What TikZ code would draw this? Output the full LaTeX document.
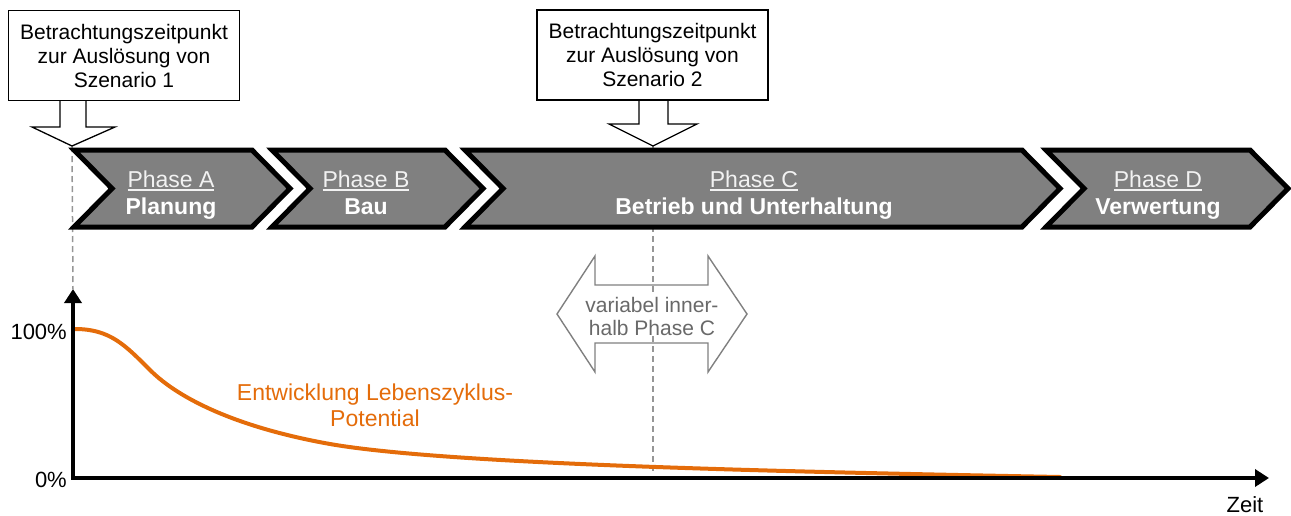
\documentclass[tikz,border=0pt]{standalone}
\usepackage{fontspec}
\setmainfont{Liberation Sans}
\usetikzlibrary{arrows.meta}
\definecolor{chevgray}{RGB}{128,128,128}
\definecolor{potorange}{RGB}{228,108,10}
\definecolor{dashgray}{RGB}{150,150,150}
\definecolor{notegray}{RGB}{105,105,105}
\definecolor{titlewhite}{RGB}{242,242,242}
% underlined phase title with a rule of fixed thickness
\newcommand\phaseul[1]{\setbox0\hbox{#1}\rlap{\raisebox{-3.5pt}{\rule{\wd0}{1.4pt}}}\box0}
\begin{document}
\begin{tikzpicture}[x=1pt,y=-1pt,
  chev/.style={fill=chevgray,draw=black,line width=5pt,line join=miter,miter limit=10},
  phasetitle/.style={anchor=base,inner sep=0pt,text=titlewhite,font=\fontsize{23}{28}\selectfont},
  phasename/.style={anchor=base,inner sep=0pt,text=white,font=\fontsize{23}{28}\selectfont\bfseries},
  callbox/.style={draw=black,line width=1.3pt,fill=white,align=center,inner sep=0pt,
    minimum width=231pt,minimum height=90pt,font=\fontsize{21}{24}\selectfont},
  callptr/.style={draw=black,line width=1.3pt,line join=miter},
  guide/.style={draw=dashgray,line width=1.5pt,dash pattern=on 6pt off 4pt},
  axisline/.style={line width=4pt,line join=miter,
    {Triangle[length=14pt,width=17pt]}-{Triangle[length=14pt,width=17pt]}},
  varbox/.style={draw=notegray!85,line width=1.4pt,line join=miter},
  vartext/.style={align=center,inner sep=1pt,fill=white,text=notegray,font=\fontsize{21}{23}\selectfont},
  axislabel/.style={inner sep=0pt,font=\fontsize{22}{26}\selectfont},
]
\useasboundingbox (0,0) rectangle (1291,515);

% reference points
\coordinate (tip1) at (72,146);
\coordinate (tip2) at (653,146);
\coordinate (O) at (73,478);
\coordinate (ytop) at (73,289);
\coordinate (xend) at (1269,478);
\coordinate (foot2) at (653,471);

% dashed guide lines
\draw[guide] (tip1) -- (ytop);
\draw[guide] (tip2) -- (foot2);

% phase chevrons
\draw[chev] (74,150) -- (252,150) -- (290,188.5) -- (252,227) -- (74,227) -- (112,188.5) -- cycle;
\draw[chev] (272,150) -- (445,150) -- (483,188.5) -- (445,227) -- (272,227) -- (310,188.5) -- cycle;
\draw[chev] (465,150) -- (1022,150) -- (1060,188.5) -- (1022,227) -- (465,227) -- (503,188.5) -- cycle;
\draw[chev] (1046,150) -- (1250,150) -- (1288,188.5) -- (1250,227) -- (1046,227) -- (1084,188.5) -- cycle;

\node[phasetitle] (tA) at (171,187) {\phaseul{Phase A}};
\node[phasename]  (nA) at (171,214) {Planung};
\node[phasetitle] (tB) at (366,187) {\phaseul{Phase B}};
\node[phasename]  (nB) at (366,214) {Bau};
\node[phasetitle] (tC) at (754,187) {\phaseul{Phase C}};
\node[phasename]  (nC) at (754,214) {Betrieb und Unterhaltung};
\node[phasetitle] (tD) at (1158,187) {\phaseul{Phase D}};
\node[phasename]  (nD) at (1158,214) {Verwertung};

% callouts
\draw[callptr] (60,100) -- (60,127) -- (32,127) -- (tip1) -- (115,127) -- (86,127) -- (86,100);
\node[callbox] (c1) at (124,55.5) {Betrachtungszeitpunkt\\zur Auslösung von\\Szenario 1};
\draw[callptr] (639,99) -- (639,124) -- (609,124) -- (tip2) -- (697,124) -- (668,124) -- (668,99);
\node[callbox] (c2) at (652.5,55) {Betrachtungszeitpunkt\\zur Auslösung von\\Szenario 2};

% double arrow: variable within phase C
\draw[varbox] (557,314) -- (595,256) -- (595,285) -- (708,285) -- (708,256) -- (747,314)
  -- (708,372) -- (708,343) -- (595,343) -- (595,372) -- cycle;
\node[vartext] (var) at (652,316) {variabel inner-\\halb Phase C};

% life-cycle potential curve
\draw[potorange,line width=4pt,line cap=round] (75,329)
  .. controls (110,329) and (125,345) .. (150,370)
  .. controls (180,400) and (240,428) .. (330,444)
  .. controls (450,465) and (800,472) .. (1060,477);
\node[text=potorange,align=center,inner sep=0pt,font=\fontsize{23}{26}\selectfont] (pot)
  at (375,405) {Entwicklung Lebenszyklus-\\Potential};

% axes
\draw[axisline] (ytop) -- (O) -- (xend);
\node[axislabel,anchor=east] (l100) at (67,332) {100\%};
\node[axislabel,anchor=east] (l0) at (67,480) {0\%};
\node[axislabel] (zeit) at (1245,505) {Zeit};
\end{tikzpicture}
\end{document}
